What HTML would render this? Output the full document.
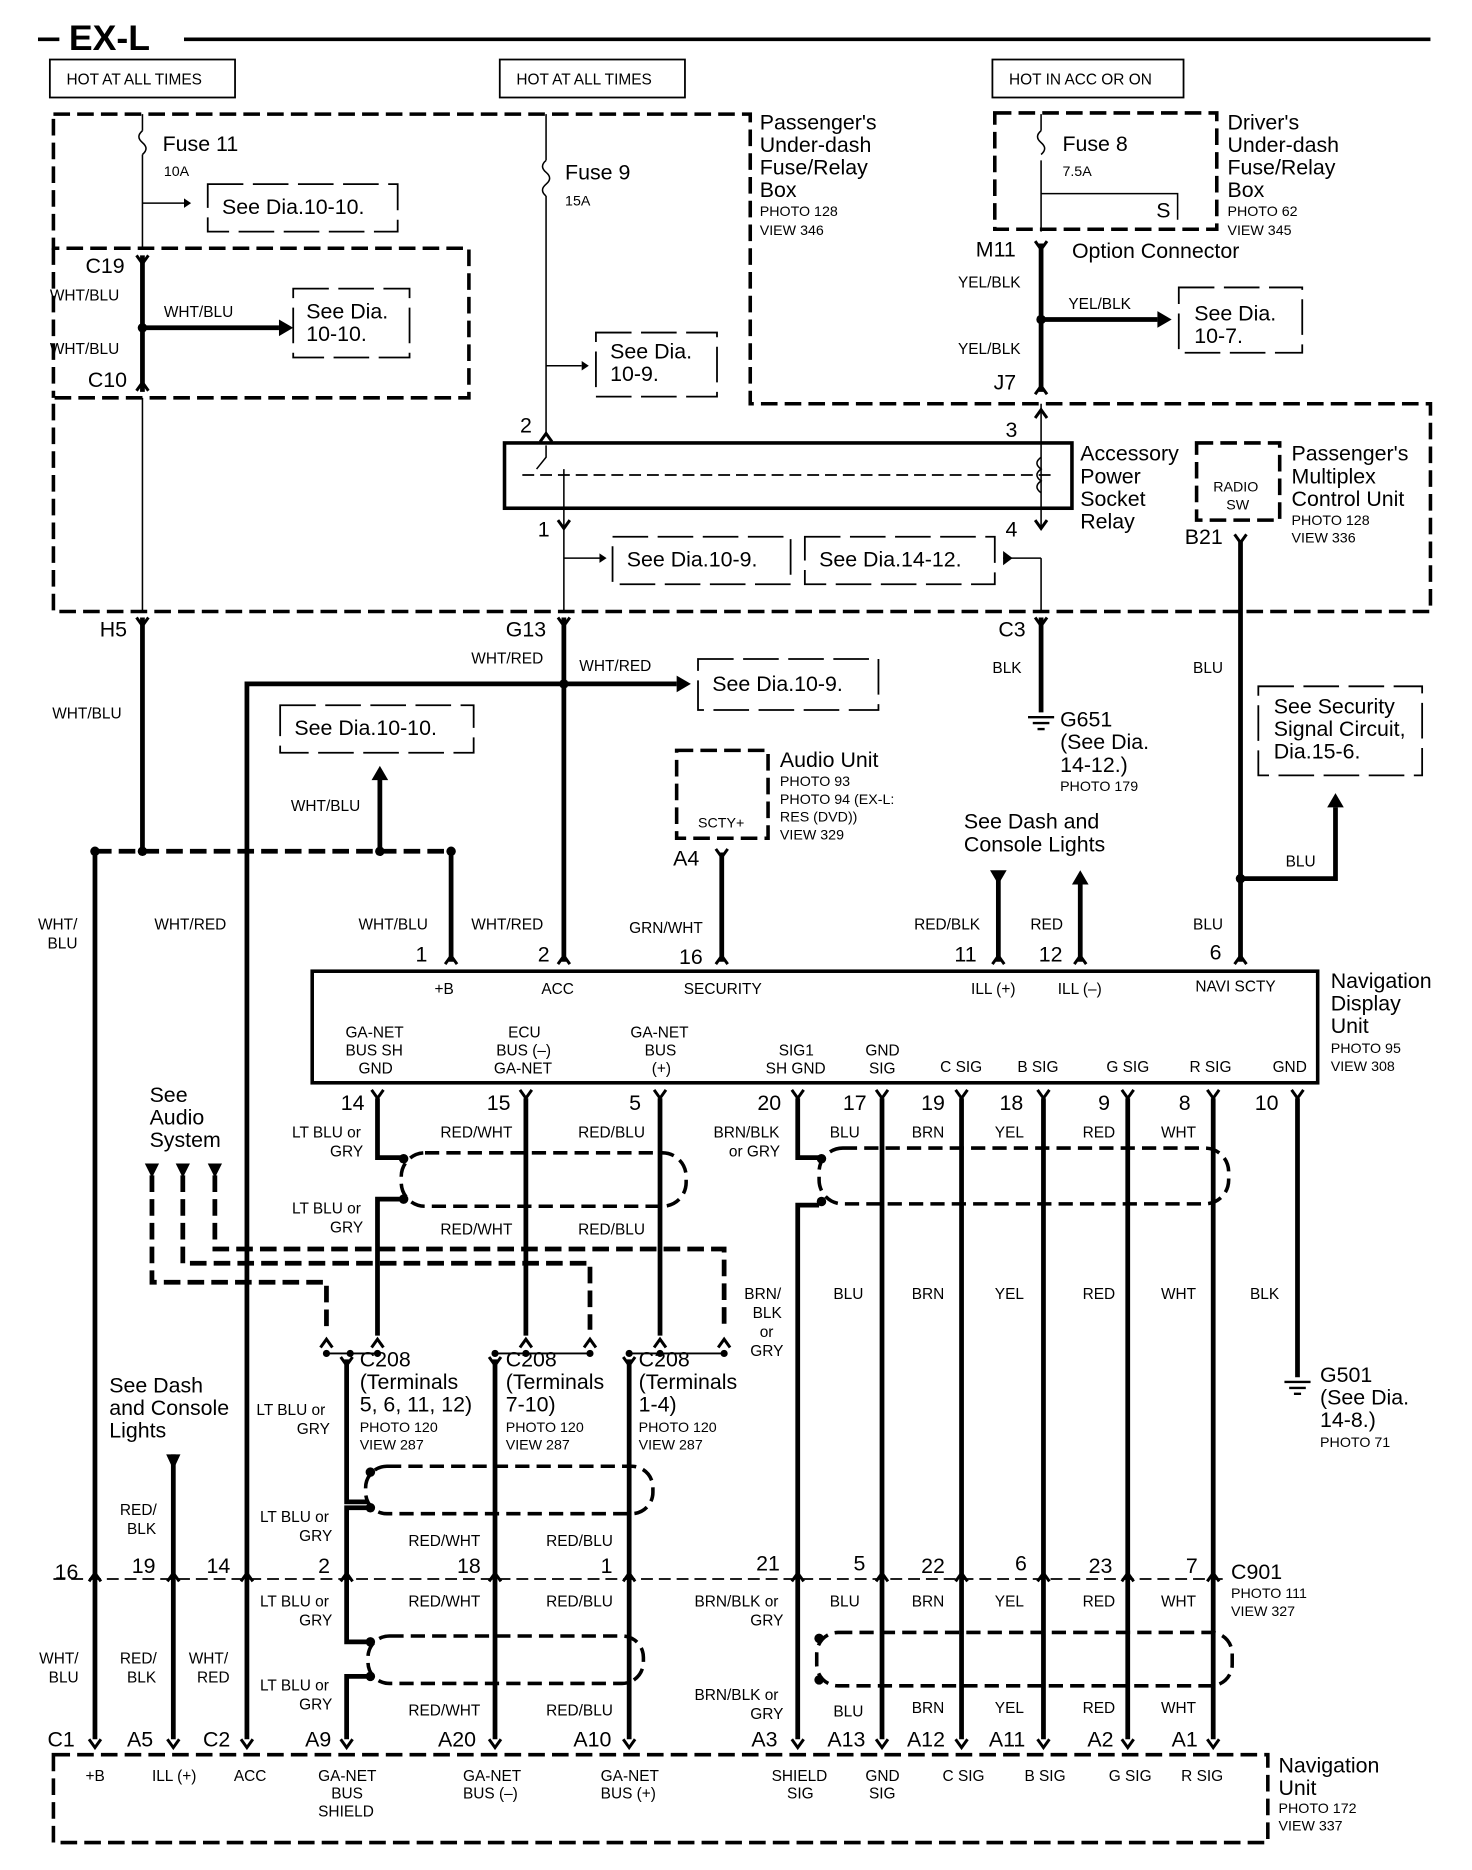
<!DOCTYPE html>
<html><head><meta charset="utf-8"><style>
html,body{margin:0;padding:0;background:#fff}
svg{display:block}
text{font-family:"Liberation Sans",Arial,sans-serif;fill:#000}
.s{font-size:13px}.m{font-size:17px}.l{font-size:18px}.x{font-size:12px}
</style></head><body>
<svg width="1472" height="1870" viewBox="0 0 1240 1575" xmlns="http://www.w3.org/2000/svg">
<defs>
<g id="cf"><path d="M-5,-7 L0,0 L5,-7" fill="none" stroke="#000" stroke-width="2.5"/></g>
<g id="cm"><path d="M-5,7 L0,0 L5,7" fill="none" stroke="#000" stroke-width="2.5"/></g>
</defs>
<g stroke="#000" fill="none">
<line x1="32" y1="33" x2="50" y2="33" stroke-width="3"/>
<line x1="155" y1="33" x2="1205" y2="33" stroke-width="3"/>
<rect x="42" y="50" width="156" height="32" stroke-width="1.5"/>
<rect x="421" y="50" width="156" height="32" stroke-width="1.5"/>
<rect x="836" y="50" width="161" height="32" stroke-width="1.5"/>
<g stroke-width="3" stroke-dasharray="14,6">
<path d="M45,96 H632 V340 H1205 V515 H45 V335 H395 V209 H45 V96"/>
<path d="M45,209 V335"/>
<rect x="838" y="95" width="187" height="98"/>
<rect x="1008" y="373" width="70" height="65"/>
<rect x="570" y="632" width="77" height="74"/>
<rect x="45" y="1478" width="1023" height="74"/>
</g>
<g stroke-width="1.5" stroke-dasharray="30,8">
<rect x="175" y="155" width="160" height="40"/>
<rect x="247" y="243" width="98" height="58"/>
<rect x="502" y="280" width="102" height="54"/>
<rect x="993" y="242" width="104" height="55"/>
<rect x="516" y="452" width="150" height="40"/>
<rect x="678" y="452" width="160" height="40"/>
<rect x="588" y="555" width="152" height="43"/>
<rect x="236" y="594" width="163" height="40"/>
<rect x="1060" y="578" width="138" height="75"/>
</g>
<rect x="425" y="373" width="478" height="55" stroke-width="3"/>
<line x1="440" y1="400" x2="890" y2="400" stroke-width="1.5" stroke-dasharray="10,5"/>
<g stroke-width="1.3">
<path d="M120,96 V110 M120,130 V210 M120,335 V515"/>
<path d="M120,171 H155"/>
<path d="M460,96 V135 M460,165 V365 M460,308 H490"/>
<path d="M460,375 V385 L452,395 M475,395 V445 M475,470 H505 M475,445 V515"/>
<path d="M877,96 V110 M877,135 V195 M877,163 H992 V185"/>
<path d="M877,340 V445 M877,470 V515 M845,470 H877"/>
<path d="M877,385 Q870,390 877,395 Q870,400 877,405 Q870,410 877,415"/>
<path d="M120,110 q-6,5 0,10 q6,5 0,10"/>
<path d="M460,135 q-6,5 0,10 q6,5 0,10 q-6,5 0,10"/>
<path d="M877,110 q-6,5 0,10 q6,5 0,10"/>
</g>
<g stroke-width="4">
<path d="M120,215 V330 M120,276 H235"/>
<path d="M877,205 V330 M877,269 H975"/>
<path d="M120,520 V717 M80,717 V1465"/>
<path d="M380,717 V810"/>
<path d="M320,717 V655"/>
<path d="M475,520 V810 M208,1465 V576 H475 M475,576 H570"/>
<path d="M877,520 V600"/>
<path d="M1045,455 V810 M1045,740 H1125 V680"/>
<path d="M608,718 V810"/>
<path d="M841,740 V810 M910,745 V810"/>
<path d="M146,1225 V1465"/>
<path d="M318,925 V975 H340 M340,1010 H318 V1125 M443,925 V1125 M556,925 V1125"/>
<path d="M1093,925 V1160"/>
<path d="M672,925 V975 H690 M672,1465 V1015 H690"/>
<path d="M743,925 V1465 M810,925 V1465 M879,925 V1465 M950,925 V1465 M1022,925 V1465"/>
<path d="M292,1145 V1265 H310 M310,1270 H292 V1383 H310 M310,1412 H292 V1465"/>
<path d="M417,1145 V1465 M530,1145 V1465"/>
</g>
<g stroke-width="4" stroke-dasharray="14,6">
<path d="M80,717 H380"/>
<path d="M128,990 V1080 H275 V1120"/>
<path d="M154,990 V1064 H497 V1120"/>
<path d="M181,990 V1052 H610 V1120"/>
<path d="M45,1330 H1030" stroke-width="1.5" stroke-dasharray="10,5"/>
</g>
<g stroke-width="3" stroke-dasharray="12,6">
<rect x="338" y="971" width="240" height="45" rx="20"/>
<rect x="690" y="967" width="345" height="47" rx="20"/>
<rect x="308" y="1235" width="242" height="40" rx="18"/>
<rect x="310" y="1378" width="232" height="40" rx="18"/>
<rect x="688" y="1375" width="350" height="45" rx="18"/>
</g>
<rect x="263" y="818" width="847" height="94" stroke-width="3"/>
<path d="M275,1140 H318 M417,1140 H497 M530,1140 H610" stroke-width="1.5"/>
</g>
<g fill="#000">
<polygon points="235,269 235,283 247,276"/>
<polygon points="975,262 975,276 987,269"/>
<polygon points="155,167 155,175 161,171"/>
<polygon points="490,304 490,312 496,308"/>
<polygon points="505,466 505,474 511,470"/>
<polygon points="570,569 570,583 582,576"/>
<polygon points="313,657 327,657 320,645"/>
<polygon points="1118,680 1132,680 1125,668"/>
<polygon points="834,733 848,733 841,745"/>
<polygon points="903,745 917,745 910,733"/>
<polygon points="845,464 845,476 853,470"/>
<polygon points="122,980 134,980 128,992"/>
<polygon points="148,980 160,980 154,992"/>
<polygon points="175,980 187,980 181,992"/>
<polygon points="140,1225 152,1225 146,1238"/>
<circle cx="120" cy="276" r="4"/><circle cx="877" cy="269" r="4"/>
<circle cx="475" cy="576" r="4"/><circle cx="80" cy="717" r="4"/><circle cx="120" cy="717" r="4"/>
<circle cx="320" cy="717" r="4"/><circle cx="380" cy="717" r="4"/><circle cx="1045" cy="740" r="4"/>
<circle cx="340" cy="976" r="4"/><circle cx="340" cy="1010" r="4"/>
<circle cx="692" cy="976" r="4"/><circle cx="692" cy="1012" r="4"/>
<circle cx="312" cy="1240" r="4"/><circle cx="312" cy="1270" r="4"/>
<circle cx="312" cy="1383" r="4"/><circle cx="312" cy="1412" r="4"/>
<circle cx="690" cy="1380" r="4"/><circle cx="690" cy="1415" r="4"/>
<circle cx="275" cy="1140" r="3"/><circle cx="295" cy="1140" r="3"/><circle cx="318" cy="1140" r="3"/>
<circle cx="417" cy="1140" r="3"/><circle cx="443" cy="1140" r="3"/><circle cx="497" cy="1140" r="3"/>
<circle cx="530" cy="1140" r="3"/><circle cx="556" cy="1140" r="3"/><circle cx="610" cy="1140" r="3"/>
</g>
<g>
<use href="#cf" x="120" y="222"/><use href="#cm" x="120" y="322"/>
<use href="#cf" x="877" y="210"/><use href="#cm" x="877" y="325"/>
<use href="#cm" x="460" y="365"/><use href="#cm" x="877" y="345"/>
<use href="#cf" x="475" y="445"/><use href="#cf" x="877" y="445"/>
<use href="#cf" x="1045" y="457"/>
<use href="#cf" x="120" y="527"/><use href="#cf" x="475" y="527"/><use href="#cf" x="877" y="527"/>
<use href="#cf" x="608" y="722"/>
<use href="#cm" x="380" y="805"/><use href="#cm" x="475" y="805"/><use href="#cm" x="608" y="805"/>
<use href="#cm" x="841" y="805"/><use href="#cm" x="910" y="805"/><use href="#cm" x="1045" y="805"/>
<use href="#cf" x="318" y="925"/><use href="#cf" x="443" y="925"/><use href="#cf" x="556" y="925"/>
<use href="#cf" x="672" y="925"/><use href="#cf" x="743" y="925"/><use href="#cf" x="810" y="925"/>
<use href="#cf" x="879" y="925"/><use href="#cf" x="950" y="925"/><use href="#cf" x="1022" y="925"/><use href="#cf" x="1093" y="925"/>
<use href="#cm" x="275" y="1128"/><use href="#cm" x="318" y="1128"/><use href="#cm" x="443" y="1128"/>
<use href="#cm" x="497" y="1128"/><use href="#cm" x="556" y="1128"/><use href="#cm" x="610" y="1128"/>
<use href="#cf" x="292" y="1150"/><use href="#cf" x="417" y="1150"/><use href="#cf" x="530" y="1150"/>
<use href="#cm" x="80" y="1325"/><use href="#cm" x="146" y="1325"/><use href="#cm" x="208" y="1325"/>
<use href="#cm" x="292" y="1325"/><use href="#cm" x="417" y="1325"/><use href="#cm" x="530" y="1325"/>
<use href="#cm" x="672" y="1325"/><use href="#cm" x="743" y="1325"/><use href="#cm" x="810" y="1325"/>
<use href="#cm" x="879" y="1325"/><use href="#cm" x="950" y="1325"/><use href="#cm" x="1022" y="1325"/>
<use href="#cf" x="80" y="1472"/><use href="#cf" x="146" y="1472"/><use href="#cf" x="208" y="1472"/>
<use href="#cf" x="292" y="1472"/><use href="#cf" x="417" y="1472"/><use href="#cf" x="530" y="1472"/>
<use href="#cf" x="672" y="1472"/><use href="#cf" x="743" y="1472"/><use href="#cf" x="810" y="1472"/>
<use href="#cf" x="879" y="1472"/><use href="#cf" x="950" y="1472"/><use href="#cf" x="1022" y="1472"/>
</g>
<g stroke="#000" stroke-width="2"><path d="M866,604 H888 M870,609 H884 M874,614 H880"/><path d="M1082,1164 H1104 M1086,1169 H1100 M1090,1174 H1096"/></g>
<text x="58" y="42" style="font-size:30px;font-weight:bold">EX-L</text>
<g class="s">
<text x="56" y="71">HOT AT ALL TIMES</text><text x="435" y="71">HOT AT ALL TIMES</text><text x="850" y="71">HOT IN ACC OR ON</text>
</g>
<g class="l">
<text x="137" y="127">Fuse 11</text><text x="476" y="151">Fuse 9</text><text x="895" y="127">Fuse 8</text>
<text x="187" y="180">See Dia.10-10.</text>
<text x="258" y="268">See Dia.</text><text x="258" y="287">10-10.</text>
<text x="514" y="302">See Dia.</text><text x="514" y="321">10-9.</text>
<text x="1006" y="270">See Dia.</text><text x="1006" y="289">10-7.</text>
<text x="528" y="477">See Dia.10-9.</text><text x="690" y="477">See Dia.14-12.</text>
<text x="600" y="582">See Dia.10-9.</text><text x="248" y="619">See Dia.10-10.</text>
<text x="1073" y="601">See  Security</text><text x="1073" y="620">Signal Circuit,</text><text x="1073" y="639">Dia.15-6.</text>
<text x="640" y="109">Passenger's</text><text x="640" y="128">Under-dash</text><text x="640" y="147">Fuse/Relay</text><text x="640" y="166">Box</text>
<text x="1034" y="109">Driver's</text><text x="1034" y="128">Under-dash</text><text x="1034" y="147">Fuse/Relay</text><text x="1034" y="166">Box</text>
<text x="903" y="217">Option Connector</text>
<text x="910" y="388">Accessory</text><text x="910" y="407">Power</text><text x="910" y="426">Socket</text><text x="910" y="445">Relay</text>
<text x="1088" y="388">Passenger's</text><text x="1088" y="407">Multiplex</text><text x="1088" y="426">Control Unit</text>
<text x="893" y="612">G651</text><text x="893" y="631">(See Dia.</text><text x="893" y="650">14-12.)</text>
<text x="657" y="646">Audio Unit</text>
<text x="812" y="698">See Dash and</text><text x="812" y="717">Console Lights</text>
<text x="1121" y="832">Navigation</text><text x="1121" y="851">Display</text><text x="1121" y="870">Unit</text>
<text x="126" y="928">See</text><text x="126" y="947">Audio</text><text x="126" y="966">System</text>
<text x="92" y="1173">See Dash</text><text x="92" y="1192">and Console</text><text x="92" y="1211">Lights</text>
<text x="303" y="1151">C208</text><text x="303" y="1170">(Terminals</text><text x="303" y="1189">5, 6, 11, 12)</text>
<text x="426" y="1151">C208</text><text x="426" y="1170">(Terminals</text><text x="426" y="1189">7-10)</text>
<text x="538" y="1151">C208</text><text x="538" y="1170">(Terminals</text><text x="538" y="1189">1-4)</text>
<text x="1112" y="1164">G501</text><text x="1112" y="1183">(See Dia.</text><text x="1112" y="1202">14-8.)</text>
<text x="1037" y="1330">C901</text>
<text x="1077" y="1493">Navigation</text><text x="1077" y="1512">Unit</text>
<text x="72" y="230">C19</text><text x="74" y="326">C10</text><text x="822" y="216">M11</text><text x="837" y="328">J7</text>
<text x="438" y="364">2</text><text x="847" y="368">3</text><text x="453" y="452">1</text><text x="847" y="452">4</text>
<text x="998" y="458">B21</text><text x="84" y="536">H5</text><text x="426" y="536">G13</text><text x="841" y="536">C3</text>
<text x="567" y="729">A4</text><text x="974" y="183">S</text>
<text x="350" y="810">1</text><text x="453" y="810">2</text><text x="572" y="812">16</text><text x="804" y="810">11</text><text x="875" y="810">12</text><text x="1019" y="808">6</text>
<text x="287" y="935">14</text><text x="410" y="935">15</text><text x="530" y="935">5</text><text x="638" y="935">20</text><text x="710" y="935">17</text>
<text x="776" y="935">19</text><text x="842" y="935">18</text><text x="925" y="935">9</text><text x="993" y="935">8</text><text x="1057" y="935">10</text>
<text x="46" y="1330">16</text><text x="111" y="1325">19</text><text x="174" y="1325">14</text><text x="268" y="1325">2</text><text x="385" y="1325">18</text>
<text x="506" y="1325">1</text><text x="637" y="1323">21</text><text x="719" y="1323">5</text><text x="776" y="1325">22</text><text x="855" y="1323">6</text><text x="917" y="1325">23</text><text x="999" y="1325">7</text>
<text x="40" y="1471">C1</text><text x="107" y="1471">A5</text><text x="171" y="1471">C2</text><text x="257" y="1471">A9</text><text x="369" y="1471">A20</text>
<text x="483" y="1471">A10</text><text x="633" y="1471">A3</text><text x="697" y="1471">A13</text><text x="764" y="1471">A12</text><text x="833" y="1471">A11</text>
<text x="916" y="1471">A2</text><text x="987" y="1471">A1</text>
</g>
<g class="x">
<text x="138" y="148">10A</text><text x="476" y="173">15A</text><text x="895" y="148">7.5A</text>
<text x="640" y="182">PHOTO 128</text><text x="640" y="198">VIEW 346</text>
<text x="1034" y="182">PHOTO 62</text><text x="1034" y="198">VIEW 345</text>
<text x="1088" y="442">PHOTO 128</text><text x="1088" y="457">VIEW 336</text>
<text x="1022" y="414">RADIO</text><text x="1033" y="429">SW</text>
<text x="893" y="666">PHOTO 179</text>
<text x="657" y="662">PHOTO 93</text><text x="657" y="677">PHOTO 94 (EX-L:</text><text x="657" y="692">RES (DVD))</text><text x="657" y="707">VIEW 329</text>
<text x="588" y="697">SCTY+</text>
<text x="1121" y="887">PHOTO 95</text><text x="1121" y="902">VIEW 308</text>
<text x="303" y="1206">PHOTO 120</text><text x="303" y="1221">VIEW 287</text>
<text x="426" y="1206">PHOTO 120</text><text x="426" y="1221">VIEW 287</text>
<text x="538" y="1206">PHOTO 120</text><text x="538" y="1221">VIEW 287</text>
<text x="1112" y="1219">PHOTO 71</text>
<text x="1037" y="1346">PHOTO 111</text><text x="1037" y="1361">VIEW 327</text>
<text x="1077" y="1527">PHOTO 172</text><text x="1077" y="1542">VIEW 337</text>
</g>
<g class="s">
<text x="42" y="253">WHT/BLU</text><text x="42" y="298">WHT/BLU</text><text x="138" y="267">WHT/BLU</text>
<text x="807" y="242">YEL/BLK</text><text x="807" y="298">YEL/BLK</text><text x="900" y="260">YEL/BLK</text>
<text x="397" y="559">WHT/RED</text><text x="488" y="565">WHT/RED</text><text x="44" y="605">WHT/BLU</text>
<text x="836" y="567">BLK</text><text x="1005" y="567">BLU</text><text x="245" y="683">WHT/BLU</text>
<text x="1083" y="730">BLU</text>
<text x="32" y="783">WHT/</text><text x="40" y="799">BLU</text><text x="130" y="783">WHT/RED</text><text x="302" y="783">WHT/BLU</text><text x="397" y="783">WHT/RED</text>
<text x="530" y="786">GRN/WHT</text><text x="770" y="783">RED/BLK</text><text x="868" y="783">RED</text><text x="1005" y="783">BLU</text>
<text x="366" y="837">+B</text><text x="456" y="837">ACC</text><text x="576" y="837">SECURITY</text><text x="818" y="837">ILL (+)</text><text x="891" y="837">ILL (–)</text><text x="1007" y="835">NAVI SCTY</text>
<text x="291" y="874">GA-NET</text><text x="291" y="889">BUS SH</text><text x="302" y="904">GND</text>
<text x="428" y="874">ECU</text><text x="418" y="889">BUS (–)</text><text x="416" y="904">GA-NET</text>
<text x="531" y="874">GA-NET</text><text x="543" y="889">BUS</text><text x="549" y="904">(+)</text>
<text x="656" y="889">SIG1</text><text x="645" y="904">SH GND</text><text x="729" y="889">GND</text><text x="732" y="904">SIG</text>
<text x="792" y="903">C SIG</text><text x="857" y="903">B SIG</text><text x="932" y="903">G SIG</text><text x="1002" y="903">R SIG</text><text x="1072" y="903">GND</text>
<text x="246" y="958">LT BLU or</text><text x="278" y="974">GRY</text><text x="371" y="958">RED/WHT</text><text x="487" y="958">RED/BLU</text>
<text x="246" y="1022">LT BLU or</text><text x="278" y="1038">GRY</text><text x="371" y="1040">RED/WHT</text><text x="487" y="1040">RED/BLU</text>
<text x="601" y="958">BRN/BLK</text><text x="614" y="974">or GRY</text><text x="699" y="958">BLU</text><text x="768" y="958">BRN</text><text x="838" y="958">YEL</text><text x="912" y="958">RED</text><text x="978" y="958">WHT</text>
<text x="627" y="1094">BRN/</text><text x="634" y="1110">BLK</text><text x="640" y="1126">or</text><text x="632" y="1142">GRY</text>
<text x="702" y="1094">BLU</text><text x="768" y="1094">BRN</text><text x="838" y="1094">YEL</text><text x="912" y="1094">RED</text><text x="978" y="1094">WHT</text><text x="1053" y="1094">BLK</text>
<text x="216" y="1192">LT BLU or</text><text x="250" y="1208">GRY</text>
<text x="101" y="1276">RED/</text><text x="107" y="1292">BLK</text>
<text x="219" y="1282">LT BLU or</text><text x="252" y="1298">GRY</text><text x="344" y="1302">RED/WHT</text><text x="460" y="1302">RED/BLU</text>
<text x="219" y="1353">LT BLU or</text><text x="252" y="1369">GRY</text><text x="344" y="1353">RED/WHT</text><text x="460" y="1353">RED/BLU</text>
<text x="585" y="1353">BRN/BLK or</text><text x="632" y="1369">GRY</text><text x="699" y="1353">BLU</text><text x="768" y="1353">BRN</text><text x="838" y="1353">YEL</text><text x="912" y="1353">RED</text><text x="978" y="1353">WHT</text>
<text x="33" y="1401">WHT/</text><text x="41" y="1417">BLU</text><text x="101" y="1401">RED/</text><text x="107" y="1417">BLK</text><text x="159" y="1401">WHT/</text><text x="166" y="1417">RED</text>
<text x="219" y="1424">LT BLU or</text><text x="252" y="1440">GRY</text><text x="344" y="1445">RED/WHT</text><text x="460" y="1445">RED/BLU</text>
<text x="585" y="1432">BRN/BLK or</text><text x="632" y="1448">GRY</text><text x="702" y="1446">BLU</text><text x="768" y="1443">BRN</text><text x="838" y="1443">YEL</text><text x="912" y="1443">RED</text><text x="978" y="1443">WHT</text>
<text x="72" y="1500">+B</text><text x="128" y="1500">ILL (+)</text><text x="197" y="1500">ACC</text>
<text x="268" y="1500">GA-NET</text><text x="279" y="1515">BUS</text><text x="268" y="1530">SHIELD</text>
<text x="390" y="1500">GA-NET</text><text x="390" y="1515">BUS (–)</text><text x="506" y="1500">GA-NET</text><text x="506" y="1515">BUS (+)</text>
<text x="650" y="1500">SHIELD</text><text x="663" y="1515">SIG</text><text x="729" y="1500">GND</text><text x="732" y="1515">SIG</text>
<text x="794" y="1500">C SIG</text><text x="863" y="1500">B SIG</text><text x="934" y="1500">G SIG</text><text x="995" y="1500">R SIG</text>
</g>
</svg>
</body></html>
